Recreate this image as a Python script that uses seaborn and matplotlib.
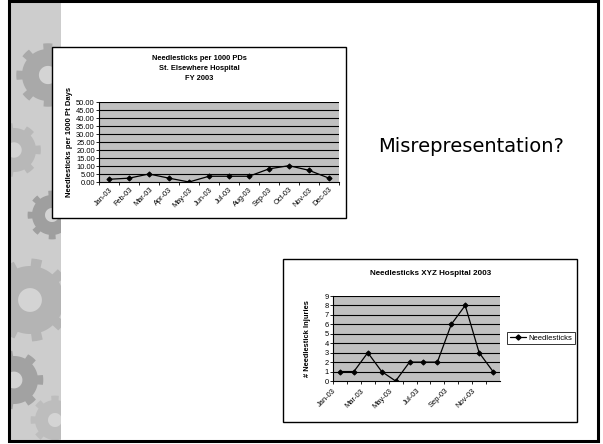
import numpy as np
import pandas as pd
import matplotlib
matplotlib.use("Agg")
import matplotlib.pyplot as plt
import seaborn as sns
from matplotlib.patches import Rectangle, Polygon
from matplotlib.lines import Line2D

# ---- data -------------------------------------------------------------
months = ["Jan-03", "Feb-03", "Mar-03", "Apr-03", "May-03", "Jun-03",
          "Jul-03", "Aug-03", "Sep-03", "Oct-03", "Nov-03", "Dec-03"]
rate_per_1000 = [1.7, 2.4, 5.0, 2.4, 0.0, 3.6, 3.6, 3.6, 8.2, 10.2, 7.3, 2.4]
injury_counts = [1, 1, 3, 1, 0, 2, 2, 2, 6, 8, 3, 1]
rate_ticks = [0, 5, 10, 15, 20, 25, 30, 35, 40, 45, 50]
count_ticks = [0, 1, 2, 3, 4, 5, 6, 7, 8, 9]
count_month_labels = ["Jan-03", "Mar-03", "May-03", "Jul-03", "Sep-03", "Nov-03"]

sns.set_theme(style="white")
plt.rcParams["font.family"] = ["Liberation Sans", "DejaVu Sans"]
for key in ("text.color", "axes.labelcolor", "xtick.color", "ytick.color"):
    plt.rcParams[key] = "black"

W, H = 603, 444
fig = plt.figure(figsize=(W / 100, H / 100), dpi=100)


def px_axes(x0, y0, x1, y1, **kw):
    return fig.add_axes([x0 / W, 1 - y1 / H, (x1 - x0) / W, (y1 - y0) / H], **kw)


# ---- slide background -------------------------------------------------
bg = fig.add_axes([0, 0, 1, 1], zorder=0)
bg.set_xlim(0, W)
bg.set_ylim(H, 0)
bg.axis("off")

strip = Rectangle((10, 2), 51, 438, facecolor="#cdcdcd", edgecolor="none")
bg.add_patch(strip)


def gear(cx, cy, r, teeth, color, phase=0.0):
    t = np.linspace(0, 2 * np.pi, teeth * 40, endpoint=False) + phase
    rr = r * (1 + 0.22 * (np.cos(teeth * t) > 0.3))
    pts = np.column_stack([cx + rr * np.cos(t), cy + rr * np.sin(t)])
    p = Polygon(pts, closed=True, facecolor=color, edgecolor="none")
    bg.add_patch(p)
    p.set_clip_path(strip)
    hole = Polygon(np.column_stack([cx + 0.35 * r * np.cos(t), cy + 0.35 * r * np.sin(t)]),
                   closed=True, facecolor="#d4d4d4", edgecolor="none")
    bg.add_patch(hole)
    hole.set_clip_path(strip)


gear(48, 75, 26, 8, "#a9a9a9", 0.2)
gear(14, 150, 22, 7, "#b8b8b8", 0.5)
gear(52, 215, 20, 8, "#9f9f9f", 0.1)
gear(30, 300, 34, 9, "#b4b4b4", 0.7)
gear(14, 380, 24, 7, "#a2a2a2", 0.3)
gear(55, 420, 20, 8, "#bdbdbd", 0.0)

bg.add_patch(Rectangle((9, 1.5), 589, 439.5, facecolor="none",
                       edgecolor="black", linewidth=2.2))

bg.text(471, 146, "Misrepresentation?", fontsize=14, ha="center", va="center",
        family=["DejaVu Sans"], color="black")

# chart frames
bg.add_patch(Rectangle((52, 47), 294, 171, facecolor="white", edgecolor="black", linewidth=1.0))
bg.add_patch(Rectangle((283, 259), 294, 163, facecolor="white", edgecolor="black", linewidth=1.0))

PLOT_GRAY = "#c0c0c0"


def style_axes(ax):
    ax.set_facecolor(PLOT_GRAY)
    for s in ("top", "right"):
        ax.spines[s].set_visible(False)
    for s in ("left", "bottom"):
        ax.spines[s].set_color("black")
        ax.spines[s].set_linewidth(0.8)
    ax.grid(False)
    ax.tick_params(axis="y", which="major", direction="out", length=2,
                   width=0.6, color="black", left=True, pad=1)


# ---- chart 1: rate per 1000 patient days ------------------------------
ax1 = px_axes(99, 102, 339, 182, zorder=2)
style_axes(ax1)
df1 = pd.DataFrame({"month": months, "rate": rate_per_1000})
df1["pos"] = np.arange(len(months))
sns.lineplot(data=df1, x="pos", y="rate", ax=ax1, color="black", linewidth=0.9,
             marker="D", markersize=2.6, markeredgecolor="black", zorder=3)
ax1.set_xlim(-0.5, len(months) - 0.5)
ax1.set_ylim(0, 50)
for v in rate_ticks[1:]:
    ax1.axhline(v, color="black", linewidth=0.8, zorder=1)
ax1.set_yticks(rate_ticks)
ax1.set_yticklabels([f"{v:.2f}" for v in rate_ticks], fontsize=5.4)
ax1.set_xticks(df1["pos"])
ax1.set_xticklabels(months, rotation=45, ha="right", rotation_mode="anchor", fontsize=5.3)
ax1.set_xticks(np.arange(-0.5, len(months)), minor=True)
ax1.tick_params(axis="x", which="major", length=0, pad=3)
ax1.tick_params(axis="x", which="minor", direction="out", length=2.5, width=0.6,
                color="black", bottom=True)
ax1.set_xlabel("")
ax1.set_ylabel("Needlesticks per 1000 Pt Days", fontsize=5.5, fontweight="bold", labelpad=2)
bg.text(199, 58, "Needlesticks per 1000 PDs", fontsize=5.4, fontweight="bold",
        ha="center", va="center")
bg.text(199, 69, "St. Elsewhere Hospital", fontsize=5.4, fontweight="bold",
        ha="center", va="center")
bg.text(199, 79, "FY 2003", fontsize=5.4, fontweight="bold", ha="center", va="center")

# ---- chart 2: raw injury counts ---------------------------------------
ax2 = px_axes(333, 296, 500, 381, zorder=2)
style_axes(ax2)
df2 = pd.DataFrame({"month": months, "count": injury_counts})
df2["pos"] = np.arange(len(months))
sns.lineplot(data=df2, x="pos", y="count", ax=ax2, color="black", linewidth=0.9,
             marker="D", markersize=2.6, markeredgecolor="black", zorder=3, legend=False)
ax2.set_xlim(-0.5, len(months) - 0.5)
ax2.set_ylim(0, 9)
for v in count_ticks[1:]:
    ax2.axhline(v, color="black", linewidth=0.8, zorder=1)
ax2.set_yticks(count_ticks)
ax2.set_yticklabels([str(v) for v in count_ticks], fontsize=5.4)
ax2.set_xticks(np.arange(-0.5, len(months) - 0.5, 2))
ax2.set_xticklabels(count_month_labels, rotation=45, ha="right",
                    rotation_mode="anchor", fontsize=5.4)
ax2.set_xticks(np.arange(0.5, len(months), 2), minor=True)
ax2.tick_params(axis="x", which="both", direction="out", length=2.5, width=0.6,
                color="black", bottom=True, pad=2)
ax2.set_xlabel("")
ax2.set_ylabel("# Needlestick Injuries", fontsize=5.4, fontweight="bold", labelpad=10)
bg.text(431, 273, "Needlesticks XYZ Hospital 2003", fontsize=5.8, fontweight="bold",
        ha="center", va="center")

handle = Line2D([], [], color="black", linewidth=0.9, marker="D", markersize=2.6)
leg = fig.legend([handle], ["Needlesticks"], loc="center",
                 bbox_to_anchor=(541 / W, 1 - 338 / H), fontsize=5.5,
                 frameon=True, fancybox=False, edgecolor="black", borderpad=0.3,
                 handlelength=2.2, handletextpad=0.3, borderaxespad=0)
leg.get_frame().set_linewidth(0.7)
leg.set_zorder(5)

fig.savefig("out.png", dpi=100)
